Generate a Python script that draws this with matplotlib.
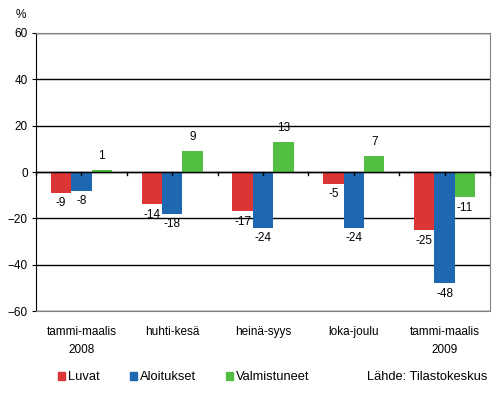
import numpy as np
import matplotlib.pyplot as plt
from matplotlib.patches import Patch

categories = ['tammi-maalis\n2008', 'huhti-kesä', 'heinä-syys', 'loka-joulu', 'tammi-maalis\n2009']
luvat = [-9, -14, -17, -5, -25]
aloitukset = [-8, -18, -24, -24, -48]
valmistuneet = [1, 9, 13, 7, -11]
series_names = ['Luvat', 'Aloitukset', 'Valmistuneet']
colors = ['#dc3535', '#1d68b1', '#52bf42']


def main():
    plt.rcParams['font.family'] = ['Liberation Sans', 'DejaVu Sans']
    plt.rcParams['font.size'] = 8

    fig = plt.figure(figsize=(4.95, 3.96), dpi=100)
    ax = fig.add_axes([0.0727, 0.2146, 0.9173, 0.7021])

    x = np.arange(len(categories))
    w = 0.225
    data = [luvat, aloitukset, valmistuneet]
    for i, (vals, c) in enumerate(zip(data, colors)):
        xs = x + (i - 1) * w
        ax.bar(xs, vals, width=w, color=c, zorder=3)
        for xi, v in zip(xs, vals):
            if v >= 0:
                ax.text(xi, v + 3.5, str(v), ha='center', va='bottom', fontsize=8.5)
            else:
                ax.text(xi, v - 2, str(v), ha='center', va='top', fontsize=8.5)

    ax.set_xlim(-0.5, len(categories) - 0.5)
    ax.set_ylim(-60, 60)
    ax.set_yticks(np.arange(-60, 61, 20))
    ax.yaxis.grid(True, color='black', linewidth=1, zorder=0)
    ax.axhline(0, color='black', linewidth=1, zorder=4)

    # ticks on the zero line at group centres and boundaries
    for t in np.arange(-0.5, len(categories), 0.5):
        ax.plot([t, t], [0, -1.3], color='black', linewidth=1, zorder=4, clip_on=False)

    ax.set_xticks(x)
    ax.set_xticklabels(categories, linespacing=1.6, fontsize=8.5)
    ax.tick_params(axis='x', length=0, pad=11)
    ax.tick_params(axis='y', length=3, direction='out', pad=3, labelsize=8.5)

    for s in ['top', 'right', 'bottom']:
        ax.spines[s].set_color('#808080')
    ax.spines['left'].set_color('black')

    fig.text(0.042, 0.962, '%', ha='center', va='center', fontsize=8.5)

    handles = [Patch(color=c) for c in colors]
    fig.legend(handles, series_names, loc='center left', bbox_to_anchor=(0.117, 0.047),
               ncol=3, frameon=False, handlelength=0.55, handleheight=0.55,
               handletextpad=0.25, columnspacing=2.3, fontsize=9.3,
               borderpad=0, borderaxespad=0)
    fig.text(0.985, 0.047, 'Lähde: Tilastokeskus', ha='right', va='center', fontsize=9.3)

    fig.savefig('out.png', dpi=100)


if __name__ == '__main__':
    main()
